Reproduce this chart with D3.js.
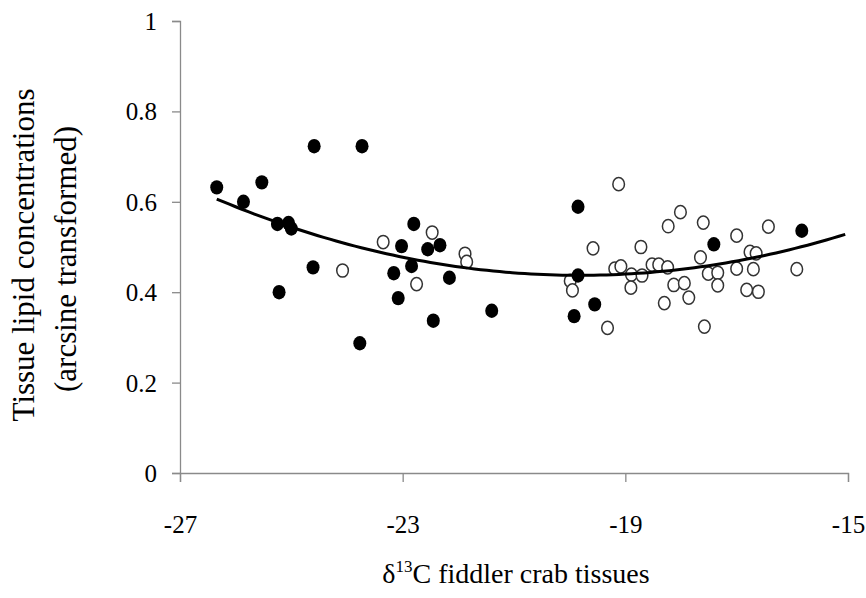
<!DOCTYPE html>
<html><head><meta charset="utf-8">
<script src="https://cdn.jsdelivr.net/npm/d3@7"></script>
<style>body{margin:0;background:#fff}svg{display:block}</style>
</head><body>
<svg id="c" width="866" height="598"></svg>
<script>
// filled circles: [d13C, lipid]
const filledX = [-26.34,-25.86,-25.53,-25.25,-25.05,-25.00,-25.22,-24.59,-24.61,-23.73,-23.77,-22.80,-23.02,-22.55,-22.33,-22.84,-23.16,-22.16,-23.08,-22.45,-21.40,-19.85,-19.85,-19.55,-19.92,-17.41,-15.83];
const filledY = [0.632,0.600,0.643,0.551,0.553,0.541,0.400,0.723,0.455,0.723,0.287,0.551,0.502,0.495,0.504,0.458,0.442,0.432,0.387,0.337,0.359,0.589,0.437,0.373,0.347,0.506,0.536];
// open circles
const openX = [-24.08,-23.35,-22.47,-21.88,-21.85,-22.75,-19.12,-19.58,-18.72,-19.99,-19.95,-19.19,-19.08,-18.89,-18.70,-18.90,-18.52,-18.40,-18.24,-18.13,-17.94,-18.30,-19.32,-18.01,-18.23,-17.60,-16.43,-17.00,-17.65,-16.76,-16.65,-17.51,-17.34,-17.00,-16.70,-17.34,-17.86,-16.82,-16.61,-17.58,-15.92];
const openY = [0.448,0.511,0.532,0.485,0.467,0.418,0.639,0.497,0.500,0.425,0.404,0.452,0.457,0.439,0.437,0.410,0.461,0.461,0.455,0.416,0.420,0.376,0.321,0.577,0.546,0.554,0.545,0.525,0.477,0.489,0.486,0.441,0.443,0.452,0.451,0.415,0.388,0.405,0.401,0.324,0.451];
// trend line extent (x range of fitted curve)
const trendRange = [-26.34, -15.05];
const xTicks = [-27, -23, -19, -15];
const yTicks = [0, 0.2, 0.4, 0.6, 0.8, 1];
const yTickLabels = ["0", "0.2", "0.4", "0.6", "0.8", "1"];

const FONT = "Liberation Serif, Times New Roman, serif";
const svg = d3.select("#c");
const x = d3.scaleLinear().domain([-27, -15]).range([180, 848]);
const y = d3.scaleLinear().domain([0, 1]).range([473, 21]);

// axes
const gx = svg.append("g").attr("transform", "translate(0,473)")
  .call(d3.axisBottom(x).tickValues(xTicks).tickSize(9).tickPadding(33).tickFormat(d => String(d)));
const gy = svg.append("g").attr("transform", "translate(180,0)")
  .call(d3.axisLeft(y).tickValues(yTicks).tickSize(8).tickPadding(15).tickFormat((d, i) => yTickLabels[i]));
[gx, gy].forEach(g => {
  g.attr("font-family", FONT).attr("font-size", 25);
  g.select(".domain").attr("stroke", "#8a8a8a").attr("stroke-width", 1.3);
  g.selectAll(".tick line").attr("stroke", "#8a8a8a").attr("stroke-width", 1.3);
  g.selectAll(".tick text").attr("font-family", FONT).attr("font-size", 25).attr("fill", "#000");
});
gy.selectAll(".tick text").attr("dy", "0.34em");

// quadratic least-squares fit computed from all points
const allX = filledX.concat(openX), allY = filledY.concat(openY);
function polyfit2(xs, ys) {
  let S = [0,0,0,0,0], T = [0,0,0];
  xs.forEach((xi, i) => {
    for (let k = 0; k < 5; k++) S[k] += Math.pow(xi, k);
    for (let k = 0; k < 3; k++) T[k] += Math.pow(xi, k) * ys[i];
  });
  const A = [[S[0],S[1],S[2],T[0]],[S[1],S[2],S[3],T[1]],[S[2],S[3],S[4],T[2]]];
  for (let i = 0; i < 3; i++) {
    for (let j = i+1; j < 3; j++) {
      const f = A[j][i] / A[i][i];
      for (let k = i; k < 4; k++) A[j][k] -= f * A[i][k];
    }
  }
  const c = [0,0,0];
  for (let i = 2; i >= 0; i--) {
    let s = A[i][3];
    for (let k = i+1; k < 3; k++) s -= A[i][k] * c[k];
    c[i] = s / A[i][i];
  }
  return c;
}
const coef = polyfit2(allX, allY);
const curve = d3.range(0, 101).map(i => {
  const xv = trendRange[0] + (trendRange[1] - trendRange[0]) * i / 100;
  return [xv, coef[0] + coef[1]*xv + coef[2]*xv*xv];
});

// points
svg.append("g").selectAll("ellipse").data(openX.map((v,i)=>[v, openY[i]])).join("ellipse")
  .attr("cx", d => x(d[0])).attr("cy", d => y(d[1])).attr("rx", 5.8).attr("ry", 6.6)
  .attr("fill", "#fff").attr("stroke", "#333").attr("stroke-width", 1.5);
svg.append("g").selectAll("ellipse").data(filledX.map((v,i)=>[v, filledY[i]])).join("ellipse")
  .attr("cx", d => x(d[0])).attr("cy", d => y(d[1])).attr("rx", 6.5).attr("ry", 7.2)
  .attr("fill", "#000");

svg.append("path").datum(curve)
  .attr("d", d3.line().x(d => x(d[0])).y(d => y(d[1])))
  .attr("fill", "none").attr("stroke", "#000").attr("stroke-width", 3);

// titles
const yt = svg.append("text").attr("transform", "translate(34,255) rotate(-90)")
  .attr("text-anchor", "middle").attr("font-family", FONT).attr("font-size", 31).attr("fill", "#000");
yt.append("tspan").attr("x", 0).attr("y", 0).text("Tissue lipid concentrations");
yt.append("tspan").attr("x", -4).attr("y", 42).text("(arcsine transformed)");

const xt = svg.append("text").attr("x", 516).attr("y", 583).attr("text-anchor", "middle")
  .attr("font-family", FONT).attr("font-size", 28).attr("fill", "#000");
xt.append("tspan").text("δ");
xt.append("tspan").attr("font-size", 17).attr("dy", -11).text("13");
xt.append("tspan").attr("dy", 11).text("C fiddler crab tissues");
</script>
</body></html>
